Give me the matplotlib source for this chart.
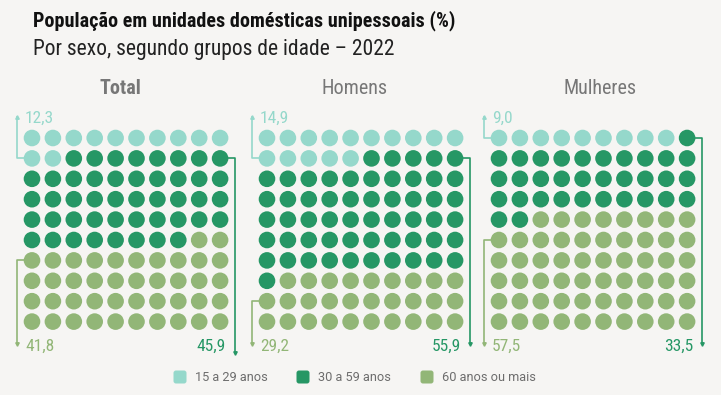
import matplotlib.pyplot as plt
from matplotlib import font_manager
from matplotlib.patches import Circle, FancyBboxPatch

# Dados (percentagens e nº de círculos em cada grelha 10x10)
grupos = ["Total", "Homens", "Mulheres"]
faixas = ["15 a 29 anos", "30 a 59 anos", "60 anos ou mais"]
pct_15_29 = [12.3, 14.9, 9.0]
pct_30_59 = [45.9, 55.9, 33.5]
pct_60 = [41.8, 29.2, 57.5]
n_15_29 = [12, 15, 9]
n_30_59 = [46, 56, 33]
n_60 = [42, 29, 58]

cores = ["#95d8cb", "#269765", "#92b677"]
fundo = "#f6f5f3"

avail = {f.name for f in font_manager.fontManager.ttflist}
cond = "DejaVu Sans"
for nome in ["Roboto Condensed", "Liberation Sans Narrow", "Open Sans Condensed"]:
    if nome in avail:
        cond = nome
        break
normal = "Roboto" if "Roboto" in avail else "DejaVu Sans"

W, H = 721, 395
fig = plt.figure(figsize=(W / 100, H / 100), dpi=100, facecolor=fundo)
ax = fig.add_axes([0, 0, 1, 1])
ax.set_xlim(0, W)
ax.set_ylim(H, 0)
ax.axis("off")
ax.set_facecolor(fundo)

# Títulos
ax.text(33, 21, "População em unidades domésticas unipessoais (%)", family=cond,
        fontweight="bold", fontsize=14.5, color="#111111", va="center", ha="left")
ax.text(33, 49, "Por sexo, segundo grupos de idade – 2022", family=cond,
        fontsize=15.5, color="#222222", va="center", ha="left")

x0s = [32, 267, 499]
tit_x = [120, 355, 600]
dx, dy = 20.9, 20.4
y0 = 138
R = 8.3
fim_escuro = [353, 344, 344]

for g in range(3):
    x0 = x0s[g]
    ns = [n_15_29[g], n_30_59[g], n_60[g]]
    cats = [0] * ns[0] + [1] * ns[1] + [2] * ns[2]
    for i, c in enumerate(cats):
        r, col = divmod(i, 10)
        ax.add_patch(Circle((x0 + col * dx, y0 + r * dy), R, color=cores[c], lw=0))

    ax.text(tit_x[g], 89, grupos[g], family=cond, fontsize=14.5, color="#777777",
            fontweight="bold" if g == 0 else "normal", ha="center", va="center")

    xl = x0 - 15
    xr = x0 + 9 * dx + 15
    # 15 a 29 anos: linha para cima
    r1 = (ns[0] - 1) // 10
    ax.plot([x0 - R, xl, xl], [y0 + r1 * dy, y0 + r1 * dy, 117], color=cores[0], lw=1.2)
    ax.plot(xl, 117, marker="^", ms=2.5, color=cores[0])
    ax.text(x0 - 7, 118, f"{pct_15_29[g]:.1f}".replace(".", ","), family=cond,
            fontsize=12.5, color=cores[0], ha="left", va="center")
    # 30 a 59 anos: linha à direita para baixo
    r2 = ns[0] // 10
    ax.plot([x0 + 9 * dx + R, xr, xr], [y0 + r2 * dy, y0 + r2 * dy, fim_escuro[g]],
            color=cores[1], lw=1.2)
    ax.plot(xr, fim_escuro[g], marker="v", ms=2.5, color=cores[1])
    ax.text(x0 + 9 * dx + 6, 346, f"{pct_30_59[g]:.1f}".replace(".", ","), family=cond,
            fontsize=12.5, color=cores[1], ha="right", va="center")
    # 60 anos ou mais: linha à esquerda para baixo
    r3 = -(-(ns[0] + ns[1]) // 10)
    ax.plot([x0 - R, xl, xl], [y0 + r3 * dy, y0 + r3 * dy, 344], color=cores[2], lw=1.2)
    ax.plot(xl, 344, marker="v", ms=2.5, color=cores[2])
    ax.text(x0 - 7, 346, f"{pct_60[g]:.1f}".replace(".", ","), family=cond,
            fontsize=12.5, color=cores[2], ha="left", va="center")

# Legenda
leg_x = [180, 303, 427]
for k in range(3):
    ax.add_patch(FancyBboxPatch((leg_x[k] - 5.5, 377 - 5.5), 11, 11,
                                boxstyle="round,pad=1,rounding_size=2.5",
                                color=cores[k], lw=0))
    ax.text(leg_x[k] + 15, 377.5, faixas[k], family=normal, fontsize=9.2,
            color="#6d6d6d", ha="left", va="center")

fig.savefig("out.png", dpi=100, facecolor=fundo)
